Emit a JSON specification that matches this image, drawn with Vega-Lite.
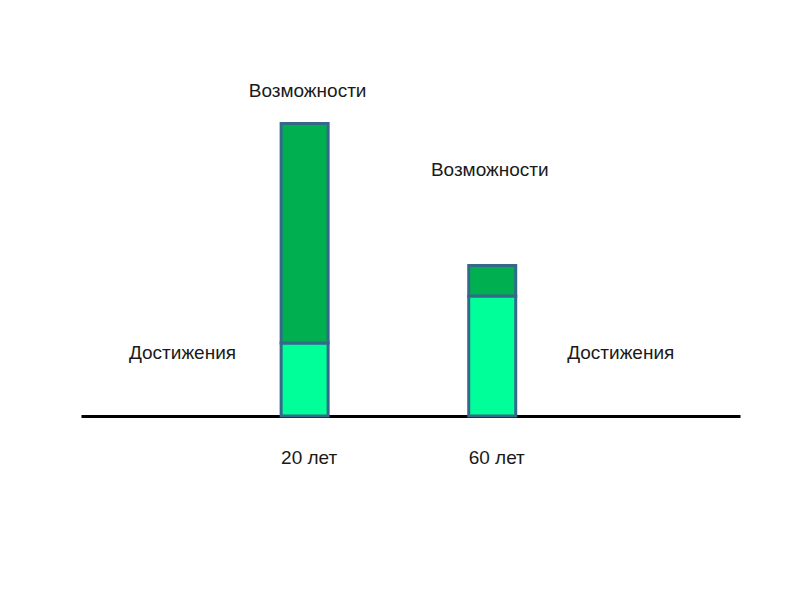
{
  "$schema": "https://vega.github.io/schema/vega-lite/v6.json",
  "width": 659,
  "height": 416,
  "autosize": {"type": "none"},
  "padding": {"left": 81, "top": 0, "right": 57, "bottom": 182},
  "background": "white",
  "config": {"view": {"stroke": null}, "font": "Liberation Sans"},
  "datasets": {
    "bars": [
      {"age": 20, "segment": "Достижения", "value": 73},
      {"age": 20, "segment": "Возможности", "value": 219.5},
      {"age": 60, "segment": "Достижения", "value": 120},
      {"age": 60, "segment": "Возможности", "value": 30.5}
    ],
    "labels": [
      {"label": "Возможности", "age": 20.63, "level": 319},
      {"label": "Возможности", "age": 59.47, "level": 240},
      {"label": "Достижения", "age": -6.04, "level": 57},
      {"label": "Достижения", "age": 87.4, "level": 57}
    ]
  },
  "layer": [
    {
      "data": {"name": "bars"},
      "mark": {"type": "bar", "width": 47, "stroke": "#35698A", "strokeWidth": 3},
      "encoding": {
        "x": {
          "field": "age",
          "type": "quantitative",
          "scale": {"domain": [-26.614, 111.76], "nice": false, "zero": false},
          "axis": {
            "values": [20, 60],
            "labelExpr": "datum.value + ' лет'",
            "domain": true,
            "domainColor": "#000000",
            "domainWidth": 3,
            "ticks": false,
            "grid": false,
            "title": null,
            "labelFontSize": 19,
            "labelColor": "#1a1a1a",
            "labelBaseline": "alphabetic",
            "labelPadding": 47,
            "labelOffset": 4,
            "labelFont": "Liberation Sans",
            "labelFlush": false
          }
        },
        "y": {
          "field": "value",
          "type": "quantitative",
          "stack": "zero",
          "scale": {"domain": [0, 416], "nice": false},
          "axis": null
        },
        "color": {
          "field": "segment",
          "type": "nominal",
          "scale": {"domain": ["Достижения", "Возможности"], "range": ["#00FF99", "#00B050"]},
          "legend": null
        },
        "order": {"field": "segment", "sort": "descending"}
      }
    },
    {
      "data": {"name": "labels"},
      "mark": {"type": "text", "fontSize": 19, "baseline": "alphabetic", "align": "center", "color": "#1a1a1a", "font": "Liberation Sans"},
      "encoding": {
        "x": {"field": "age", "type": "quantitative"},
        "y": {"field": "level", "type": "quantitative"},
        "text": {"field": "label"}
      }
    }
  ]
}
